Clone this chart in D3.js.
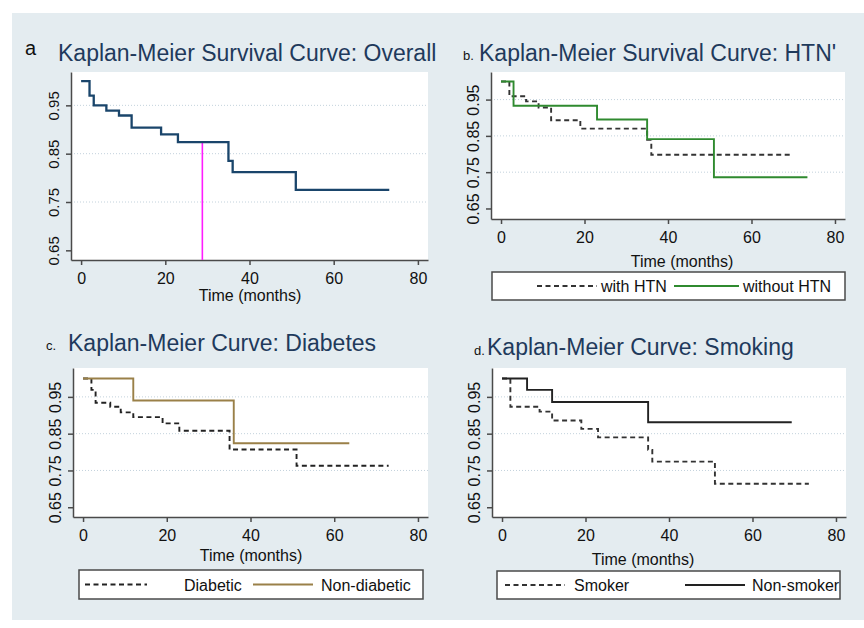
<!DOCTYPE html>
<html>
  <head>
    <meta charset="utf-8">
    <title></title>
    <script type="text/javascript" src="https://cdn.jsdelivr.net/npm/d3@7"></script>
    <style media="screen">
      body { margin: 0; background: #fff; }
      svg text { font-family: "Liberation Sans", Arial, sans-serif; }
    </style>
  </head>
  <body>
    <script type="text/javascript">
      // ticks
      var xTicks = [0, 20, 40, 60, 80];
      var yTicks = [0.65, 0.75, 0.85, 0.95];

      // a. overall
      var overallTime = [0, 2, 3, 6, 9, 12, 19, 23, 35, 36, 51, 73.2];
      var overallSurv = [1, 0.970, 0.950, 0.939, 0.929, 0.904, 0.890, 0.874, 0.835, 0.812, 0.775, 0.775];
      var medianTime = 28.8;

      // b. hypertension
      var htnGroups = ["with HTN", "without HTN"];
      var htnTime = [0, 2, 6, 9, 12, 19, 35, 36, 69.3];
      var htnSurv = [1, 0.959, 0.945, 0.928, 0.893, 0.870, 0.839, 0.798, 0.798];
      var noHtnTime = [0, 3, 23, 35, 51, 73.4];
      var noHtnSurv = [1, 0.933, 0.895, 0.841, 0.736, 0.736];

      // c. diabetes
      var diabGroups = ["Diabetic", "Non-diabetic"];
      var diabTime = [0, 2, 3, 6.5, 9, 12, 19, 23, 35, 51, 73];
      var diabSurv = [1, 0.969, 0.934, 0.923, 0.908, 0.895, 0.878, 0.858, 0.807, 0.763, 0.763];
      var nonDiabTime = [0, 12, 36, 63.6];
      var nonDiabSurv = [1, 0.940, 0.824, 0.824];

      // d. smoking
      var smokeGroups = ["Smoker", "Non-smoker"];
      var smokerTime = [0, 2, 9, 12, 19, 23, 35, 36, 51, 73.5];
      var smokerSurv = [1, 0.923, 0.910, 0.886, 0.863, 0.840, 0.806, 0.774, 0.714, 0.714];
      var nonSmokerTime = [0, 6, 12, 35, 69.4];
      var nonSmokerSurv = [1, 0.969, 0.936, 0.881, 0.881];

      var w = 864;
      var h = 628;
      var svg = d3.select('body')
        .append('svg')
        .attr('width', w)
        .attr('height', h);

      svg.append('rect')
        .attr('x', 12).attr('y', 13)
        .attr('width', w - 12).attr('height', 607)
        .attr('fill', '#e4ecf0');

      function zip(t, s) {
        return t.map(function(d, i) { return [d, s[i]]; });
      }

      var dashed = '5,3.5';

      var panels = [
        { tag: 'a', tagSize: 20, tagX: 25, tagY: 55,
          title: 'Kaplan-Meier Survival Curve: Overall', titleX: 58, titleY: 61,
          x: 71, y: 72, w: 357, h: 188, yDom: [0.630, 1.019], ySize: 15,
          xTitle: [250, 301],
          series: [{ t: overallTime, s: overallSurv, color: '#1a456b', dash: null, width: 2.3 }],
          median: medianTime },
        { tag: 'b.', tagSize: 13, tagX: 463, tagY: 60,
          title: "Kaplan-Meier Survival Curve: HTN'", titleX: 479, titleY: 60.5,
          x: 491, y: 72, w: 354, h: 147, yDom: [0.621, 1.026], ySize: 16,
          xTitle: [682, 267],
          series: [{ t: htnTime, s: htnSurv, color: '#333', dash: dashed, width: 1.9 },
                   { t: noHtnTime, s: noHtnSurv, color: '#2f8a2f', dash: null, width: 1.9 }],
          legend: { x: 492, y: 272, w: 353, h: 28, names: htnGroups,
                    keys: [[537, 597, 601], [674, 739, 743]] } },
        { tag: 'c.', tagSize: 13, tagX: 46, tagY: 350,
          title: 'Kaplan-Meier Curve: Diabetes', titleX: 68, titleY: 350.5,
          x: 73, y: 368, w: 355, h: 149, yDom: [0.6235, 1.0285], ySize: 16,
          xTitle: [251, 561],
          series: [{ t: diabTime, s: diabSurv, color: '#222', dash: dashed, width: 1.9 },
                   { t: nonDiabTime, s: nonDiabSurv, color: '#9a8048', dash: null, width: 1.9 }],
          legend: { x: 79, y: 570, w: 344, h: 29, names: diabGroups,
                    keys: [[85, 147, 184], [253, 313, 321]] } },
        { tag: 'd.', tagSize: 13, tagX: 474, tagY: 355,
          title: 'Kaplan-Meier Curve: Smoking', titleX: 487, titleY: 355,
          x: 492, y: 368, w: 354, h: 149, yDom: [0.6235, 1.0285], ySize: 16,
          xTitle: [643, 565],
          series: [{ t: smokerTime, s: smokerSurv, color: '#333', dash: dashed, width: 1.9 },
                   { t: nonSmokerTime, s: nonSmokerSurv, color: '#222', dash: null, width: 1.9 }],
          legend: { x: 497, y: 571, w: 343, h: 28, names: smokeGroups,
                    keys: [[505, 565, 574], [685, 745, 752]] } }
      ];

      panels.forEach(function(p) {
        var xscale = d3.scaleLinear()
          .domain([-2.4, 82.4])
          .range([p.x, p.x + p.w]);
        var yscale = d3.scaleLinear()
          .domain(p.yDom)
          .range([p.y + p.h, p.y]);

        svg.append('text')
          .attr('x', p.tagX).attr('y', p.tagY)
          .attr('font-size', p.tagSize)
          .attr('fill', '#111')
          .text(p.tag);
        svg.append('text')
          .attr('x', p.titleX).attr('y', p.titleY)
          .attr('font-size', 23)
          .attr('fill', '#1f3a5c')
          .text(p.title);

        svg.append('rect')
          .attr('x', p.x).attr('y', p.y)
          .attr('width', p.w).attr('height', p.h)
          .attr('fill', '#fff');

        // grid
        svg.append('g')
          .selectAll('line')
          .data(yTicks.filter(function(d) { return d > 0.7; }))
          .enter()
          .append('line')
          .attr('x1', p.x).attr('x2', p.x + p.w)
          .attr('y1', function(d) { return yscale(d); })
          .attr('y2', function(d) { return yscale(d); })
          .attr('stroke', '#c3d2dc')
          .attr('stroke-width', 1)
          .attr('stroke-dasharray', '1,2');

        var xAxis = d3.axisBottom(xscale)
          .tickValues(xTicks)
          .tickSize(5)
          .tickPadding(8)
          .tickSizeOuter(0);
        var yAxis = d3.axisLeft(yscale)
          .tickValues(yTicks)
          .tickSize(5)
          .tickFormat(d3.format('.2f'))
          .tickSizeOuter(0);

        var gx = svg.append('g')
          .attr('transform', 'translate(0,' + (p.y + p.h) + ')')
          .call(xAxis);
        gx.selectAll('text').attr('font-size', 16).attr('fill', '#111')
          .attr('font-family', '"Liberation Sans", Arial, sans-serif');

        var gy = svg.append('g')
          .attr('transform', 'translate(' + p.x + ',0)')
          .call(yAxis);
        gy.selectAll('text')
          .attr('font-size', p.ySize).attr('fill', '#111')
          .attr('font-family', '"Liberation Sans", Arial, sans-serif')
          .attr('text-anchor', 'middle')
          .attr('dy', 0)
          .attr('x', 0)
          .attr('transform', 'translate(-12,0) rotate(-90)');

        [gx, gy].forEach(function(g) {
          g.selectAll('path, line').attr('stroke', '#4a4a4a').attr('stroke-width', 1.5);
        });

        svg.append('text')
          .attr('x', p.xTitle[0]).attr('y', p.xTitle[1])
          .attr('text-anchor', 'middle')
          .attr('font-size', 16)
          .attr('fill', '#111')
          .text('Time (months)');

        var line = d3.line()
          .x(function(d) { return xscale(d[0]); })
          .y(function(d) { return yscale(d[1]); })
          .curve(d3.curveStepAfter);

        if (p.median != null) {
          var ms = overallSurv[d3.bisectRight(overallTime, p.median) - 1];
          svg.append('line')
            .attr('x1', xscale(p.median)).attr('x2', xscale(p.median))
            .attr('y1', yscale(ms)).attr('y2', p.y + p.h)
            .attr('stroke', '#ff1cff')
            .attr('stroke-width', 1.6);
        }

        p.series.forEach(function(s) {
          svg.append('path')
            .datum(zip(s.t, s.s))
            .attr('d', line)
            .attr('fill', 'none')
            .attr('stroke', s.color)
            .attr('stroke-width', s.width)
            .attr('stroke-dasharray', s.dash);
        });

        if (p.legend) {
          var L = p.legend;
          svg.append('rect')
            .attr('x', L.x).attr('y', L.y)
            .attr('width', L.w).attr('height', L.h)
            .attr('fill', '#fff')
            .attr('stroke', '#4a4a4a')
            .attr('stroke-width', 1.5);
          var ly = L.y + L.h / 2;
          p.series.forEach(function(s, i) {
            var k = L.keys[i];
            svg.append('line')
              .attr('x1', k[0]).attr('x2', k[1])
              .attr('y1', ly).attr('y2', ly)
              .attr('stroke', s.color)
              .attr('stroke-width', 1.8)
              .attr('stroke-dasharray', s.dash);
            svg.append('text')
              .attr('x', k[2]).attr('y', ly + 6)
              .attr('font-size', 16)
              .attr('fill', '#111')
              .text(L.names[i]);
          });
        }
      });
    </script>
  </body>
</html>
